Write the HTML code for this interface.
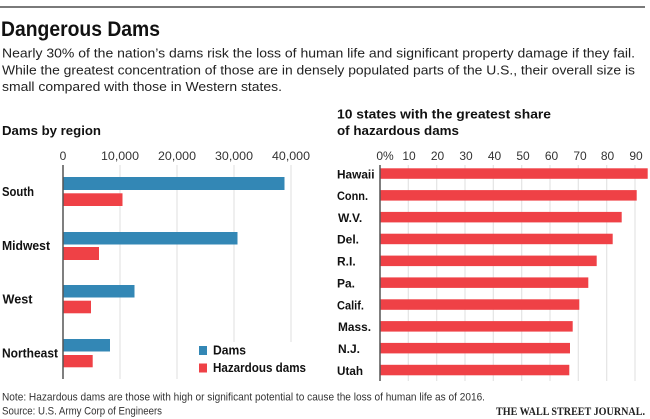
<!DOCTYPE html>
<html><head><meta charset="utf-8"><style>
html,body{margin:0;padding:0;background:#fff;}
svg{display:block;}
text{font-family:"Liberation Sans",sans-serif;}
.b{font-weight:bold;fill:#111;}
.t{fill:#333;font-size:12px;}
.n{fill:#333;font-size:11px;}
</style></head><body>
<svg width="650" height="419" viewBox="0 0 650 419" xmlns="http://www.w3.org/2000/svg">
<rect width="650" height="419" fill="#fff"/>
<rect x="0" y="6" width="645" height="2" fill="#7a7a7a"/>
<text x="1" y="36" class="b" font-size="21" textLength="159" lengthAdjust="spacingAndGlyphs">Dangerous Dams</text>
<text x="2" y="57.5" font-size="13" fill="#222" textLength="633" lengthAdjust="spacingAndGlyphs">Nearly 30% of the nation’s dams risk the loss of human life and significant property damage if they fail.</text>
<text x="2" y="74.5" font-size="13" fill="#222" textLength="633" lengthAdjust="spacingAndGlyphs">While the greatest concentration of those are in densely populated parts of the U.S., their overall size is</text>
<text x="2" y="91" font-size="13" fill="#222" textLength="280" lengthAdjust="spacingAndGlyphs">small compared with those in Western states.</text>

<!-- Left chart -->
<text x="2" y="135" class="b" font-size="12.5" textLength="99" lengthAdjust="spacingAndGlyphs">Dams by region</text>
<g stroke="#e4e4e4" stroke-width="1.2">
<line x1="120" y1="165" x2="120" y2="379"/>
<line x1="177" y1="165" x2="177" y2="379"/>
<line x1="234" y1="165" x2="234" y2="342"/>
<line x1="291" y1="165" x2="291" y2="342"/>
</g>
<g class="t" text-anchor="middle">
<text x="63" y="160">0</text>
<text x="120" y="160" textLength="38" lengthAdjust="spacingAndGlyphs">10,000</text>
<text x="177" y="160" textLength="38" lengthAdjust="spacingAndGlyphs">20,000</text>
<text x="234" y="160" textLength="38" lengthAdjust="spacingAndGlyphs">30,000</text>
<text x="291" y="160" textLength="38" lengthAdjust="spacingAndGlyphs">40,000</text>
</g>
<g fill="#3387b5">
<rect x="63" y="177" width="221.5" height="13"/>
<rect x="63" y="232" width="174.5" height="12.5"/>
<rect x="63" y="285" width="71.5" height="12.5"/>
<rect x="63" y="339" width="47" height="12.5"/>
</g>
<g fill="#ef4146">
<rect x="63" y="193.3" width="59.5" height="12.7"/>
<rect x="63" y="247" width="36" height="13"/>
<rect x="63" y="300.7" width="28" height="12.6"/>
<rect x="63" y="355" width="29.7" height="12.3"/>
</g>
<line x1="63" y1="165" x2="63" y2="379" stroke="#555" stroke-width="1.5"/>
<g class="b" font-size="12.5">
<text x="2" y="196" textLength="32" lengthAdjust="spacingAndGlyphs">South</text>
<text x="2" y="250" textLength="48" lengthAdjust="spacingAndGlyphs">Midwest</text>
<text x="2.5" y="303.5" textLength="30" lengthAdjust="spacingAndGlyphs">West</text>
<text x="2" y="357.5" textLength="56" lengthAdjust="spacingAndGlyphs">Northeast</text>
</g>
<rect x="199" y="346" width="8" height="9" fill="#3387b5"/>
<rect x="199" y="363.5" width="8" height="9" fill="#ef4146"/>
<text x="213" y="354.5" class="b" font-size="12.5" textLength="33" lengthAdjust="spacingAndGlyphs">Dams</text>
<text x="213" y="372" class="b" font-size="12.5" textLength="93" lengthAdjust="spacingAndGlyphs">Hazardous dams</text>

<!-- Right chart -->
<text x="337" y="118.5" class="b" font-size="12.5" textLength="214" lengthAdjust="spacingAndGlyphs">10 states with the greatest share</text>
<text x="337" y="135" class="b" font-size="12.5" textLength="122" lengthAdjust="spacingAndGlyphs">of hazardous dams</text>
<g stroke="#e4e4e4" stroke-width="1.2">
<line x1="408.3" y1="165" x2="408.3" y2="381"/>
<line x1="436.7" y1="165" x2="436.7" y2="381"/>
<line x1="465" y1="165" x2="465" y2="381"/>
<line x1="493.3" y1="165" x2="493.3" y2="381"/>
<line x1="521.7" y1="165" x2="521.7" y2="381"/>
<line x1="550" y1="165" x2="550" y2="381"/>
<line x1="578.3" y1="165" x2="578.3" y2="381"/>
<line x1="606.7" y1="165" x2="606.7" y2="381"/>
<line x1="635" y1="165" x2="635" y2="381"/>
</g>
<g class="t" text-anchor="middle">
<text x="385" y="160">0%</text>
<text x="409" y="160">10</text>
<text x="437.5" y="160">20</text>
<text x="466" y="160">30</text>
<text x="494.5" y="160">40</text>
<text x="523" y="160">50</text>
<text x="551.5" y="160">60</text>
<text x="580" y="160">70</text>
<text x="607.5" y="160">80</text>
<text x="636" y="160">90</text>
</g>
<g fill="#ef4146">
<rect x="380" y="168.3" width="267.7" height="10.5"/>
<rect x="380" y="190.1" width="256.7" height="10.5"/>
<rect x="380" y="211.9" width="241.7" height="10.5"/>
<rect x="380" y="233.7" width="232.7" height="10.5"/>
<rect x="380" y="255.6" width="216.7" height="10.5"/>
<rect x="380" y="277.4" width="208.3" height="10.5"/>
<rect x="380" y="299.3" width="199.3" height="10.5"/>
<rect x="380" y="321.1" width="192.7" height="10.5"/>
<rect x="380" y="342.9" width="190" height="10.5"/>
<rect x="380" y="364.8" width="189.3" height="10.5"/>
</g>
<line x1="380" y1="165" x2="380" y2="381" stroke="#555" stroke-width="1.5"/>
<g class="b" font-size="12">
<text x="337" y="178.3" textLength="37.5" lengthAdjust="spacingAndGlyphs">Hawaii</text>
<text x="337" y="200.1" textLength="31" lengthAdjust="spacingAndGlyphs">Conn.</text>
<text x="338" y="221.9">W.V.</text>
<text x="337" y="243.7">Del.</text>
<text x="337" y="265.6">R.I.</text>
<text x="337" y="287.4">Pa.</text>
<text x="337" y="309.3" textLength="27" lengthAdjust="spacingAndGlyphs">Calif.</text>
<text x="338" y="331.1" textLength="33" lengthAdjust="spacingAndGlyphs">Mass.</text>
<text x="338" y="352.9">N.J.</text>
<text x="337" y="374.8" textLength="26" lengthAdjust="spacingAndGlyphs">Utah</text>
</g>

<text x="2" y="400.5" class="n" textLength="483" lengthAdjust="spacingAndGlyphs">Note: Hazardous dams are those with high or significant potential to cause the loss of human life as of 2016.</text>
<text x="2" y="414.5" class="n" textLength="160" lengthAdjust="spacingAndGlyphs">Source: U.S. Army Corp of Engineers</text>
<text x="496" y="415" style="font-family:'Liberation Serif',serif;font-weight:bold;font-size:11.5px;fill:#222" textLength="149" lengthAdjust="spacingAndGlyphs">THE WALL STREET JOURNAL.</text>
</svg>
</body></html>
